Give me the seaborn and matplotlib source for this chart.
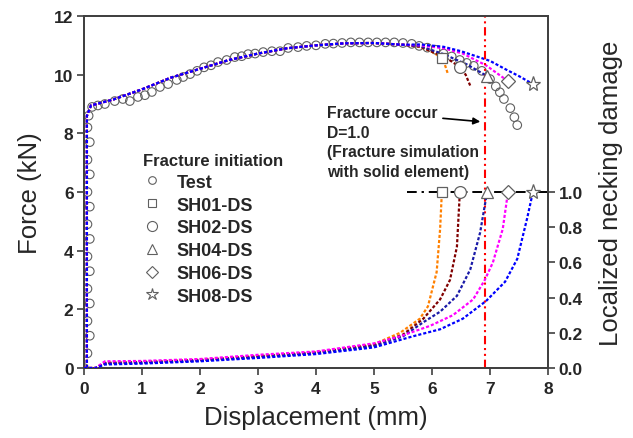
import matplotlib
matplotlib.use("Agg")
import matplotlib.pyplot as plt
import seaborn as sns
import numpy as np
from matplotlib.lines import Line2D

sns.set_theme(style="white")
plt.rcParams['font.family'] = ['Liberation Sans', 'DejaVu Sans']

# ---------------- data ----------------
test_x = [0.0, 0.06, 0.1, 0.06, 0.1, 0.06, 0.1, 0.06, 0.1, 0.06, 0.1, 0.06, 0.1, 0.06, 0.1, 0.06, 0.08,
          0.14, 0.24, 0.36, 0.53, 0.67, 0.79, 0.93, 1.05, 1.17, 1.31, 1.45, 1.60, 1.71, 1.83, 1.95,
          2.07, 2.19, 2.31, 2.46, 2.60, 2.72, 2.83, 2.95, 3.09, 3.24, 3.38, 3.52, 3.69, 3.84, 4.00,
          4.16, 4.30, 4.45, 4.60, 4.75, 4.90, 5.05, 5.20, 5.35, 5.50, 5.65, 5.78, 5.92, 6.06, 6.20,
          6.34, 6.48, 6.60, 6.72, 6.86, 7.00, 7.10, 7.17, 7.24, 7.35, 7.42, 7.47]
test_f = [0.0, 0.5, 1.1, 1.6, 2.2, 2.7, 3.3, 3.8, 4.4, 4.9, 5.5, 6.0, 6.6, 7.1, 7.7, 8.2, 8.6,
          8.90, 8.95, 9.00, 9.10, 9.17, 9.10, 9.24, 9.30, 9.41, 9.58, 9.68, 9.82, 9.92, 10.02, 10.13,
          10.25, 10.32, 10.43, 10.50, 10.60, 10.63, 10.70, 10.72, 10.77, 10.80, 10.80, 10.91, 10.94, 10.98, 11.00,
          11.05, 11.06, 11.08, 11.10, 11.10, 11.10, 11.10, 11.10, 11.10, 11.08, 11.05, 10.98, 10.92, 10.85, 10.72,
          10.62, 10.50, 10.40, 10.30, 10.13, 9.85, 9.60, 9.40, 9.17, 8.86, 8.55, 8.28]

# shared elastic / hardening part of the simulated force curves
sim_base_x = [0.05, 0.05, 0.12, 0.5, 1.0, 1.5, 2.0, 2.5, 3.0, 3.5, 4.0, 4.5, 5.0, 5.5]
sim_base_f = [0.0, 8.6, 8.95, 9.15, 9.5, 9.9, 10.2, 10.5, 10.72, 10.9, 11.0, 11.07, 11.08, 11.02]

series = ["SH01-DS", "SH02-DS", "SH04-DS", "SH06-DS", "SH08-DS"]
colors = ["#ff8000", "#800000", "#1a1aa8", "#ff00ff", "#0000ff"]
markers = ["s", "o", "^", "D", "*"]

tail_x = {
    "SH01-DS": [5.8, 6.0, 6.17, 6.22, 6.27],
    "SH02-DS": [5.8, 6.1, 6.3, 6.48, 6.58, 6.66],
    "SH04-DS": [5.8, 6.2, 6.6, 6.95],
    "SH06-DS": [5.8, 6.2, 6.53, 6.93, 7.12, 7.31],
    "SH08-DS": [5.8, 6.2, 6.5, 7.0, 7.3, 7.5, 7.74],
}
tail_f = {
    "SH01-DS": [10.95, 10.78, 10.57, 10.35, 10.05],
    "SH02-DS": [10.95, 10.70, 10.50, 10.26, 10.00, 9.62],
    "SH04-DS": [10.97, 10.70, 10.35, 9.95],
    "SH06-DS": [11.00, 10.90, 10.72, 10.32, 10.05, 9.78],
    "SH08-DS": [11.03, 10.95, 10.80, 10.47, 10.15, 9.95, 9.68],
}
frac_x = {"SH01-DS": 6.17, "SH02-DS": 6.48, "SH04-DS": 6.95, "SH06-DS": 7.31, "SH08-DS": 7.74}
frac_f = {"SH01-DS": 10.57, "SH02-DS": 10.26, "SH04-DS": 9.95, "SH06-DS": 9.78, "SH08-DS": 9.68}

dmg_x = {
    "SH01-DS": [0.0, 0.2, 0.36, 1, 2, 3, 4, 5, 5.45, 5.79, 5.93, 6.08, 6.14, 6.17],
    "SH02-DS": [0.0, 0.2, 0.36, 1, 2, 3, 4, 5, 5.5, 5.85, 6.14, 6.31, 6.43, 6.48],
    "SH04-DS": [0.0, 0.2, 0.36, 1, 2, 3, 4, 5, 5.5, 5.85, 6.14, 6.43, 6.66, 6.83, 6.95],
    "SH06-DS": [0.0, 0.2, 0.36, 1, 2, 3, 4, 5, 5.45, 5.97, 6.36, 6.71, 6.91, 7.05, 7.22, 7.31],
    "SH08-DS": [0.0, 0.2, 0.36, 1, 2, 3, 4, 5, 5.67, 6.14, 6.53, 6.93, 7.26, 7.47, 7.64, 7.74],
}
dmg_d = {
    "SH01-DS": [0.0, 0.0, 0.030, 0.035, 0.047, 0.068, 0.090, 0.135, 0.20, 0.28, 0.35, 0.545, 0.79, 1.0],
    "SH02-DS": [0.0, 0.0, 0.028, 0.033, 0.045, 0.066, 0.088, 0.130, 0.19, 0.28, 0.39, 0.50, 0.69, 1.0],
    "SH04-DS": [0.0, 0.0, 0.025, 0.030, 0.042, 0.062, 0.085, 0.125, 0.18, 0.26, 0.32, 0.41, 0.56, 0.77, 1.0],
    "SH06-DS": [0.0, 0.0, 0.038, 0.040, 0.051, 0.075, 0.094, 0.140, 0.18, 0.24, 0.30, 0.39, 0.50, 0.60, 0.79, 1.0],
    "SH08-DS": [0.0, 0.0, 0.020, 0.025, 0.038, 0.057, 0.079, 0.117, 0.18, 0.22, 0.28, 0.38, 0.49, 0.62, 0.85, 1.0],
}

fracture_disp = 6.91
x_ticks = [0, 1, 2, 3, 4, 5, 6, 7, 8]
f_ticks = [0, 2, 4, 6, 8, 10, 12]
d_ticks = [0.0, 0.2, 0.4, 0.6, 0.8, 1.0]

# ---------------- figure ----------------
fig = plt.figure(figsize=(6.33, 4.39), dpi=100)
ax = fig.add_axes([84/633, 1-369/439, (548-84)/633, (369-17)/439])
ax2 = ax.twinx()

dash = (0, (1.4, 0.9))
edge = "#606060"

# test data
sns.scatterplot(x=test_x, y=test_f, ax=ax, marker="o", s=38, facecolor="none",
                edgecolor=edge, linewidth=0.8, zorder=2)

# simulated force curves
for name, c in zip(series, colors):
    xs = sim_base_x + tail_x[name]
    fs = sim_base_f + tail_f[name]
    sns.lineplot(x=xs, y=fs, ax=ax, color=c, linestyle=dash, linewidth=1.6,
                 sort=False, estimator=None, zorder=3)

# damage curves
for name, c in zip(series, colors):
    sns.lineplot(x=dmg_x[name], y=dmg_d[name], ax=ax2, color=c, linestyle=dash, linewidth=1.6,
                 sort=False, estimator=None, zorder=3)

# D = 1.0 line
ax2.plot([5.57, 8.0], [1.0, 1.0], color="black", linestyle=(0, (5, 2.5, 1.2, 2.5)), lw=1.4, zorder=2)

# fracture markers
msz = {"s": 7.5, "o": 8.5, "^": 9, "D": 7.5, "*": 11}
for name, m in zip(series, markers):
    ax.plot([frac_x[name]], [frac_f[name]], marker=m, ms=msz[m], mfc="white", mec=edge, mew=0.9,
            linestyle="none", zorder=5)
    ax2.plot([frac_x[name]], [1.0], marker=m, ms=msz[m], mfc="white", mec=edge, mew=0.9,
             linestyle="none", zorder=5)

# fracture vertical line
ax.axvline(fracture_disp, color="#ff0000", linestyle=(0, (4, 1.8, 1, 1.8, 1, 1.8)), lw=1.5, zorder=4)

# annotation
ax.text(4.19, 8.97, "Fracture occur\nD=1.0\n(Fracture simulation\nwith solid element)",
        fontsize=11.3, fontweight="bold", ha="left", va="top", linespacing=1.4, zorder=6)
ax.annotate("", xy=(6.88, 8.39), xytext=(6.14, 8.52),
            arrowprops=dict(arrowstyle="-|>", color="black", lw=1.2, mutation_scale=10))

# axes
ax.set_xlim(0, 8)
ax.set_ylim(0, 12)
ax2.set_ylim(0, 2)
ax.set_xticks(x_ticks)
ax.set_yticks(f_ticks)
ax2.set_yticks(d_ticks)
ax2.set_yticklabels([f"{v:.1f}" for v in d_ticks])

spc = "#404040"
for a in (ax, ax2):
    for s in a.spines.values():
        s.set_color(spc)
        s.set_linewidth(1.3)
    a.tick_params(direction="out", length=5, width=1.2, color=spc, labelsize=12.5, pad=2.5)
    for lab in a.get_xticklabels() + a.get_yticklabels():
        lab.set_fontweight("bold")
ax.tick_params(axis="both", left=True, bottom=True, right=False, top=False)
ax.tick_params(axis="x", pad=4.5)
ax2.tick_params(axis="y", right=True, left=False)

ax.set_xlabel("Displacement (mm)", fontsize=18.5, labelpad=6)
ax.set_ylabel("Force (kN)", fontsize=18.5, labelpad=9)
ax2.set_ylabel("Localized necking damage", fontsize=18.5, labelpad=12)

# legend
handles = [Line2D([], [], marker="o", ms=5.5, mfc="none", mec=edge, mew=0.8, linestyle="none")]
for m in markers:
    handles.append(Line2D([], [], marker=m, ms=msz[m]*0.85, mfc="white", mec=edge, mew=0.8, linestyle="none"))
labels = ["Test"] + series
leg = ax.legend(handles, labels, title="Fracture initiation", frameon=False,
                loc="upper left", bbox_to_anchor=(143/633, 1-154/439), bbox_transform=fig.transFigure,
                prop={"size": 13, "weight": "bold"}, title_fontproperties={"size": 12, "weight": "bold"},
                handlelength=1.0, handletextpad=0.85, labelspacing=0.32, alignment="left",
                borderaxespad=0, borderpad=0)
leg.set_zorder(10)

fig.savefig("out.png", dpi=100)
